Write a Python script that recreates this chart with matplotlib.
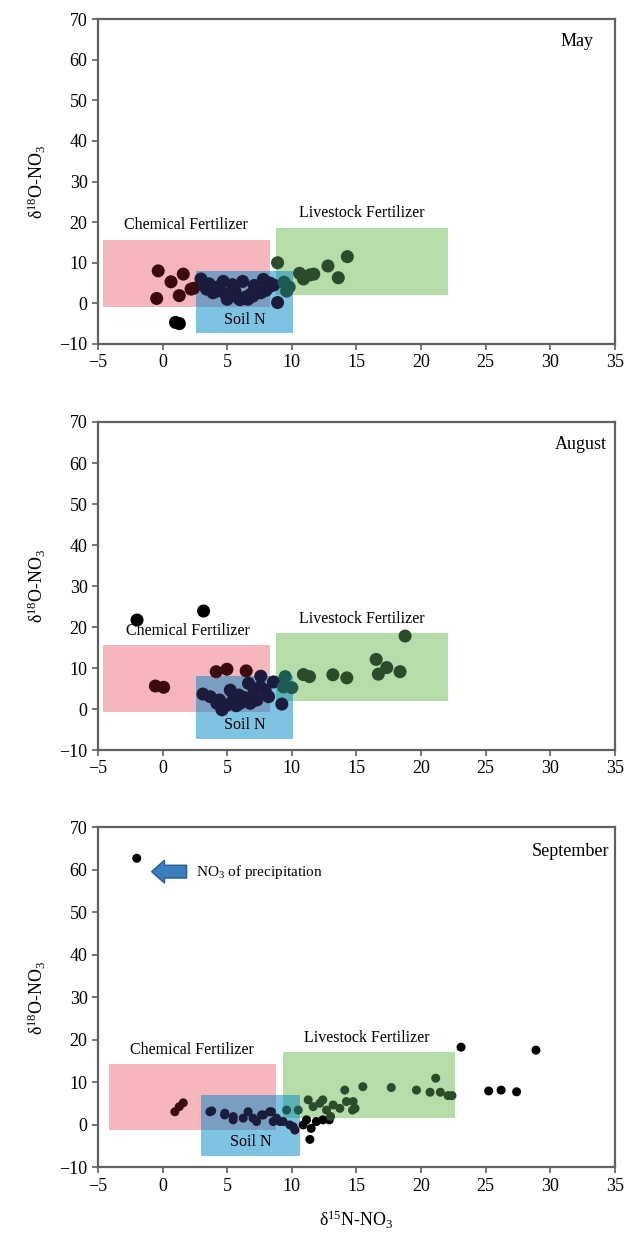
import numpy as np
import matplotlib
matplotlib.use('Agg')
import matplotlib.pyplot as plt
from matplotlib.patches import Rectangle, FancyArrow

plt.rcParams['font.family'] = ['Liberation Serif', 'DejaVu Serif']
plt.rcParams['mathtext.fontset'] = 'custom'
plt.rcParams['mathtext.rm'] = 'Liberation Serif'
plt.rcParams['mathtext.it'] = 'Liberation Serif:italic'

# data: d15N (x) and d18O (y) per month
may_x = [-0.34, -0.46, 0.65, 1.6, 1.29, 2.2, 1.0, 1.3,
         2.4, 2.97, 3.2, 3.4, 3.9, 4.2, 4.7, 4.9, 5.2, 5.6, 5.9, 6.2, 6.4, 6.8, 7.0,
         7.3, 7.6, 7.8, 8.0, 8.3, 8.6, 8.9, 8.9, 9.4, 9.6, 9.8, 5.0, 6.0, 6.6,
         3.6, 4.4, 5.4, 7.1, 8.2,
         10.6, 10.9, 11.4, 11.7, 12.8, 13.6, 14.3]
may_y = [8.0, 1.2, 5.3, 7.2, 1.9, 3.5, -4.7, -5.0,
         3.7, 6.0, 4.5, 3.5, 2.6, 3.0, 5.4, 2.2, 1.8, 3.0, 1.2, 5.4, 1.5, 2.2, 1.8,
         3.0, 2.6, 5.9, 3.2, 5.0, 4.5, 10.0, 0.2, 5.2, 3.0, 4.0, 1.0, 0.9, 1.0,
         4.8, 4.2, 4.6, 4.4, 4.0,
         7.4, 6.0, 7.0, 7.2, 9.2, 6.3, 11.5]

aug_x = [-1.98, 3.17, -0.56, 0.08, 4.15, 4.98, 6.47, 7.6,
         3.12, 3.69, 4.2, 4.6, 5.0, 5.24, 5.9, 6.0, 6.65, 6.78, 7.04, 7.56, 7.94,
         8.2, 8.58, 9.23, 9.49, 10.0, 9.36, 4.4, 5.5, 6.3, 7.3, 5.7,
         10.9, 11.37, 13.18, 14.26, 16.53, 16.7, 17.35, 18.38, 18.77]
aug_y = [21.7, 23.9, 5.6, 5.3, 9.1, 9.7, 9.3, 8.0,
         3.65, 3.0, 1.4, -0.2, 1.0, 4.6, 3.4, 1.4, 6.25, 1.4, 3.8, 5.4, 4.6,
         3.0, 6.6, 1.2, 7.9, 5.2, 5.4, 2.2, 2.5, 2.8, 2.2, 0.8,
         8.4, 7.9, 8.35, 7.6, 12.1, 8.5, 10.1, 9.1, 17.8]

sep_x = [-2.0,
         0.95, 1.29, 1.6,
         3.66, 3.8, 4.8, 4.82, 5.46, 5.47, 6.24, 6.62, 7.0, 7.27, 7.66, 7.8, 8.3,
         8.43, 8.56, 8.82, 9.08, 9.33, 9.6, 9.85, 10.1, 10.24, 10.5,
         10.88, 11.14, 11.4, 11.5, 11.9, 12.4, 12.9, 13.0,
         11.27, 11.65, 12.17, 12.4, 12.69, 13.2, 13.72, 14.1, 14.23, 14.7, 14.75,
         14.9, 15.5, 17.7, 19.65, 20.7, 21.14, 21.5, 22.1, 22.4,
         23.1, 28.9, 25.24, 26.2, 27.4]
sep_y = [62.75,
         3.1, 4.3, 5.2,
         3.1, 3.3, 2.35, 2.75, 1.2, 1.96, 1.6, 3.1, 1.6, 0.8, 2.35, 2.35, 3.1,
         3.1, 0.8, 1.6, 0.8, 0.8, 3.5, 0.0, -0.4, -1.2, 3.5,
         0.0, 1.2, -3.4, -0.8, 0.8, 1.2, 1.2, 2.0,
         5.9, 4.3, 5.1, 5.9, 3.5, 4.7, 3.9, 8.2, 5.5, 3.5, 5.5,
         3.9, 9.0, 8.8, 8.2, 7.7, 11.0, 7.7, 6.9, 6.9,
         18.3, 17.6, 8.0, 8.2, 7.8]

months = ['May', 'August', 'September']

# source boxes: x0, x1, y0, y1
pink_boxes = [(-4.6, 8.3, -0.8, 15.6), (-4.6, 8.3, -0.8, 15.6), (-4.15, 8.74, -1.3, 14.3)]
green_boxes = [(8.8, 22.1, 2.0, 18.6), (8.8, 22.1, 2.0, 18.6), (9.33, 22.6, 1.6, 17.1)]
blue_boxes = [(2.55, 10.1, -7.2, 8.0), (2.55, 10.1, -7.2, 8.0), (3.0, 10.6, -7.3, 7.1)]

chem_pos = [(1.8, 19.3), (1.95, 19.0), (2.24, 17.6)]
live_pos = [(15.45, 22.2), (15.4, 21.9), (15.84, 20.4)]
soil_pos = [(6.35, -4.1), (6.37, -3.9), (6.8, -4.0)]
month_pos = [0.958, 0.985, 0.99]
marker_s = [88, 88, 42]

# precipitation arrow (September)
arrow_tail_x, arrow_head_x, arrow_y = 1.86, -0.85, 59.6

xs = [may_x, aug_x, sep_x]
ys = [may_y, aug_y, sep_y]

fig = plt.figure(figsize=(6.38, 12.35), dpi=100)
ax_rects = [[0.1536, 0.7215, 0.810, 0.263],
            [0.1536, 0.3927, 0.810, 0.2656],
            [0.1536, 0.0547, 0.810, 0.2753]]


def inside(b, x, y):
    return (x >= b[0]) & (x <= b[1]) & (y >= b[2]) & (y <= b[3])


for i in range(3):
    ax = fig.add_axes(ax_rects[i])
    x = np.array(xs[i])
    y = np.array(ys[i])

    # boxes
    for b, c in [(pink_boxes[i], '#ee6f7c'), (green_boxes[i], '#6cbb55'), (blue_boxes[i], '#0088c8')]:
        ax.add_patch(Rectangle((b[0], b[2]), b[1] - b[0], b[3] - b[2],
                               facecolor=c, alpha=0.5, edgecolor='none', zorder=1))

    # colour points by the box they sit in (they look tinted in the original)
    in_b = inside(blue_boxes[i], x, y)
    in_g = inside(green_boxes[i], x, y)
    in_p = inside(pink_boxes[i], x, y)
    cols = np.array(['#000000'] * len(x), dtype=object)
    cols[in_p] = '#3b0a0f'
    cols[in_g] = '#2c4b2a'
    cols[in_b] = '#1b1b3b'
    cols[in_b & in_g] = '#1e5a50'
    ax.scatter(x, y, s=marker_s[i], c=list(cols), edgecolors='none', zorder=3)

    ax.text(chem_pos[i][0], chem_pos[i][1], 'Chemical Fertilizer', ha='center', va='center',
            fontsize=11.5, zorder=4)
    ax.text(live_pos[i][0], live_pos[i][1], 'Livestock Fertilizer', ha='center', va='center',
            fontsize=11.5, zorder=4)
    ax.text(soil_pos[i][0], soil_pos[i][1], 'Soil N', ha='center', va='center',
            fontsize=11.5, zorder=4)
    ax.text(month_pos[i], 0.93, months[i], transform=ax.transAxes, ha='right', va='center',
            fontsize=13)

    ax.set_xlim(-5, 35)
    ax.set_ylim(-10, 70)
    ax.set_xticks(np.arange(-5, 36, 5))
    ax.set_yticks(np.arange(-10, 71, 10))
    ax.set_xticklabels([('\u2212' + str(-v)) if v < 0 else str(v) for v in range(-5, 36, 5)])
    ax.set_yticklabels([('\u2212' + str(-v)) if v < 0 else str(v) for v in range(-10, 71, 10)])
    ax.tick_params(labelsize=13, length=4, width=1.2, color='#606060', direction='out')
    for sp in ax.spines.values():
        sp.set_color('#606060')
        sp.set_linewidth(1.6)
    ax.set_ylabel('δ$^{18}$O-NO$_3$', fontsize=13, labelpad=8)

    if i == 2:
        ax.set_xlabel('δ$^{15}$N-NO$_3$', fontsize=13, labelpad=10)
        ax.add_patch(FancyArrow(arrow_tail_x, arrow_y, arrow_head_x - arrow_tail_x, 0,
                                width=3.0, head_width=5.4, head_length=1.0,
                                length_includes_head=True, facecolor='#3b7dbd',
                                edgecolor='#2a5e8e', linewidth=1, zorder=4))
        ax.text(arrow_tail_x + 0.75, arrow_y, 'NO$_3$ of precipitation', ha='left', va='center',
                fontsize=11)

fig.savefig('out.png', dpi=100)
